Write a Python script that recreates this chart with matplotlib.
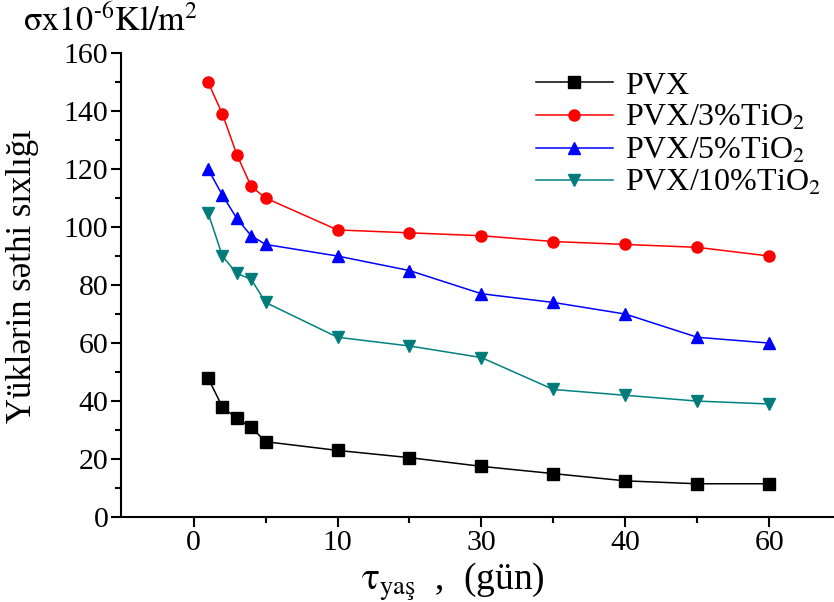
import matplotlib
matplotlib.use("Agg")
import matplotlib.pyplot as plt
from matplotlib.ticker import MultipleLocator, FixedLocator, FixedFormatter

plt.rcParams['font.family'] = ['Liberation Serif', 'DejaVu Serif']
plt.rcParams['mathtext.fontset'] = 'stix'

# x positions on the drawn axis (ticks labelled 0,10,30,40,60 at 0,10,20,30,40)
x = [1, 2, 3, 4, 5, 10, 15, 20, 25, 30, 35, 40]
pvx = [48, 38, 34, 31, 26, 23, 20.5, 17.5, 15, 12.5, 11.5, 11.5]
pvx3 = [150, 139, 125, 114, 110, 99, 98, 97, 95, 94, 93, 90]
pvx5 = [120, 111, 103, 97, 94, 90, 85, 77, 74, 70, 62, 60]
pvx10 = [105, 90, 84, 82, 74, 62, 59, 55, 44, 42, 40, 39]

xtick_pos = [0, 10, 20, 30, 40]
xtick_labels = ["0", "10", "30", "40", "60"]

labels = ["PVX", "PVX/3%TiO$_2$", "PVX/5%TiO$_2$", "PVX/10%TiO$_2$"]

fig = plt.figure(figsize=(8.34, 6.02), dpi=100)
ax = fig.add_axes([0.145, 0.141, 0.855, 0.771])

ax.plot(x, pvx, color='black', marker='s', ms=8.5, lw=1.1, label=labels[0])
ax.plot(x, pvx3, color='#ff0000', marker='o', ms=8, lw=1.1, label=labels[1])
ax.plot(x, pvx5, color='#0000ff', marker='^', ms=9, lw=1.1, label=labels[2])
ax.plot(x, pvx10, color='#008080', marker='v', ms=9, lw=1.1, label=labels[3],
        markerfacecolor='#007a78')

ax.set_xlim(-5.05, 44.5)
ax.set_ylim(0, 160)

ax.xaxis.set_major_locator(FixedLocator(xtick_pos))
ax.xaxis.set_major_formatter(FixedFormatter(xtick_labels))
ax.xaxis.set_minor_locator(FixedLocator([5, 15, 25, 35]))
ax.yaxis.set_major_locator(MultipleLocator(20))
ax.yaxis.set_minor_locator(MultipleLocator(10))

for s in ['top', 'right']:
    ax.spines[s].set_visible(False)
for s in ['left', 'bottom']:
    ax.spines[s].set_linewidth(1.5)

ax.tick_params(which='major', direction='out', length=7, width=1.5, labelsize=21.5, pad=2)
ax.tick_params(which='minor', direction='out', length=4.5, width=1.5)

leg = ax.legend(loc='upper right', bbox_to_anchor=(1.005, 0.995), frameon=False,
                fontsize=23, handlelength=2.4, labelspacing=0.1,
                handletextpad=0.4, borderaxespad=0.1)

fig.text(0.027, 0.948, r'$\mathrm{\sigma x10}^{\text{-}6}\mathrm{Kl/m}^{2}$', fontsize=24.5,
         ha='left', va='baseline')
fig.text(0.543, 0.02, r'$\mathrm{\tau}_{\mathrm{yaş}}$  ,  (gün)', fontsize=27,
         ha='center', va='baseline')
fig.text(0.027, 0.541, 'Yüklərin səthi sıxlığı', fontsize=25, rotation=90,
         ha='center', va='center')

fig.savefig('out.png', dpi=100)
